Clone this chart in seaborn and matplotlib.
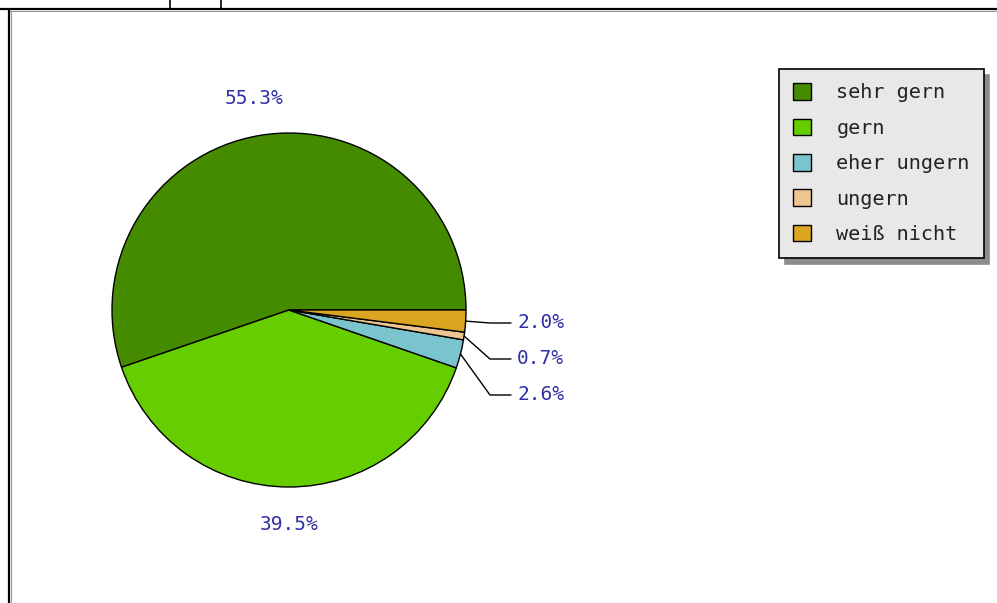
import numpy as np
import matplotlib
matplotlib.use('Agg')
import matplotlib.pyplot as plt
import seaborn as sns
from matplotlib.patches import Patch

categories = ['sehr gern', 'gern', 'eher ungern', 'ungern', 'weiß nicht']
shares = [55.3, 39.5, 2.6, 0.7, 2.0]
pct_labels = ['55.3%', '39.5%', '2.6%', '0.7%', '2.0%']
colors = ['#458b00', '#66cd00', '#7ac5cd', '#eec591', '#daa520']

sns.set_style('white')
plt.rcParams['font.family'] = ['DejaVu Sans Mono']

fig = plt.figure(figsize=(9.97, 6.03), dpi=100)
ax = fig.add_axes([0, 0, 1, 1])

cx, cy, r = 289, 310, 177
wedges, _ = ax.pie(shares, colors=colors, startangle=0, counterclock=False,
                   center=(cx, cy), radius=r,
                   wedgeprops=dict(edgecolor='black', linewidth=1))
# pixel coordinates, y downward
ax.set_xlim(0, 997)
ax.set_ylim(603, 0)
ax.set_aspect('auto')
ax.axis('off')

lab_col = '#2f2fa6'
small = []
for w, lab, s in zip(wedges, pct_labels, shares):
    mid = np.deg2rad((w.theta1 + w.theta2) / 2)
    ex, ey = cx + r * np.cos(mid), cy + r * np.sin(mid)
    if s > 5:
        tx, ty = cx + 1.21 * r * np.cos(mid), cy + 1.21 * r * np.sin(mid)
        ax.text(tx, ty, lab, ha='center', va='center', fontsize=14, color=lab_col)
    else:
        small.append((ey, ex, lab))

for k, (ey, ex, lab) in enumerate(sorted(small)):
    ly = 323 + 36 * k
    ax.plot([ex, 490, 511], [ey, ly, ly], color='black', lw=1)
    ax.text(517, ly, lab, ha='left', va='center', fontsize=14, color=lab_col)

# frame lines of the surrounding page
ax.plot([0, 997], [9, 9], color='black', lw=1.6, solid_capstyle='butt')
ax.plot([10, 997], [11, 11], color='#999999', lw=0.8)
ax.plot([9, 9], [9, 603], color='black', lw=1.6, solid_capstyle='butt')
ax.plot([11, 11], [11, 603], color='#999999', lw=0.8)
ax.plot([170, 170], [0, 9], color='black', lw=1.2)
ax.plot([221, 221], [0, 9], color='black', lw=1.2)

handles = [Patch(facecolor=c, edgecolor='black', linewidth=1) for c in colors]
leg = fig.legend(handles, categories, loc='upper left',
                 bbox_to_anchor=(779 / 997, 1 - 69 / 603), borderaxespad=0,
                 fontsize=14.5, frameon=True, fancybox=False,
                 shadow={'ox': 4, 'oy': -4, 'color': '#8c8c8c', 'alpha': 1},
                 handlelength=0.9, handleheight=0.9, handletextpad=1.25,
                 labelspacing=0.8, borderpad=0.7)
leg.get_frame().set_facecolor('#e8e8e8')
leg.get_frame().set_edgecolor('black')
leg.get_frame().set_linewidth(1.2)
for t in leg.get_texts():
    t.set_color('#222222')

fig.savefig('out.png', dpi=100)
